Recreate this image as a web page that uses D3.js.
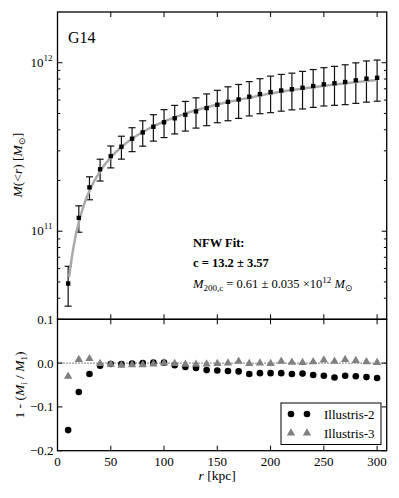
<!DOCTYPE html>
<html>
<head>
<meta charset="utf-8">
<script src="https://cdn.jsdelivr.net/npm/d3@7"></script>
<style>
body { margin: 0; background: #fff; }
svg text { font-family: "Liberation Serif", "Times New Roman", serif; fill: #000; }
</style>
</head>
<body>
<div id="chart"></div>
<script>
// radii of the mass profile [kpc]
var rVals = [10, 20, 30, 40, 50, 60, 70, 80, 90, 100, 110, 120, 130, 140, 150,
             160, 170, 180, 190, 200, 210, 220, 230, 240, 250, 260, 270, 280, 290, 300];
// enclosed mass, units of 1e10 Msun
var massVals = [4.89, 12.0, 18.2, 23.3, 27.9, 31.7, 35.4, 38.6, 41.7, 44.3, 46.8, 49.1, 51.4, 53.8, 56.3,
                58.6, 60.5, 62.8, 65.1, 66.9, 68.4, 69.6, 71.0, 72.7, 74.4, 75.5, 76.8, 78.6, 80.4, 81.4];
var massErr = [1.30, 2.14, 2.83, 3.45, 4.14, 4.92, 5.74, 6.63, 7.45, 8.35, 9.02, 9.81, 10.48, 11.49, 12.27,
               13.34, 13.77, 14.48, 15.28, 16.36, 16.82, 17.11, 17.86, 18.39, 19.03, 19.63, 20.41, 21.22, 22.05, 22.32];
// NFW fit curve (1e10 Msun)
var fitR = [11, 12, 15, 20, 25, 30, 40, 50, 60, 70, 80, 90, 100, 120, 140, 160, 180, 200, 220, 240, 260, 280, 300];
var fitM = [5.36, 6.03, 8.04, 11.32, 14.44, 17.38, 22.71, 27.42, 31.61, 35.37, 38.78, 41.90, 44.77, 49.91,
            54.40, 58.39, 61.98, 65.6, 68.8, 71.6, 74.2, 76.7, 79.0];
// residuals 1 - M_i/M_1
var ill2 = [-0.153, -0.066, -0.025, -0.006, -0.002, -0.002, -0.001, 0.000, 0.001, 0.001, -0.005, -0.009, -0.011, -0.016, -0.017,
            -0.018, -0.019, -0.025, -0.023, -0.023, -0.023, -0.025, -0.024, -0.027, -0.029, -0.033, -0.029, -0.030, -0.032, -0.034];
var ill3 = [-0.030, 0.008, 0.010, -0.001, -0.003, -0.005, -0.004, -0.004, -0.002, 0.000, -0.001, -0.003, -0.003, -0.002, -0.001,
            0.000, 0.004, -0.001, 0.000, -0.001, 0.004, 0.002, 0.001, 0.003, 0.007, 0.004, 0.008, 0.006, 0.003, 0.001];
var xTicks = [0, 50, 100, 150, 200, 250, 300];
var resTicks = [0.1, 0.0, -0.1, -0.2];

var W = 399, H = 498;
var left = 57.5, right = 386.7;
var topY = 12, midY = 319.3, botY = 450.7;
var MAJ = 5, MIN = 2.8;

var svg = d3.select("#chart").append("svg")
    .attr("width", W).attr("height", H);

var x = d3.scaleLinear().domain([0, 309]).range([left, right]);
var y = d3.scaleLog().domain([3e10, 2e12]).range([midY, topY]);
var yr = d3.scaleLinear().domain([-0.2, 0.1]).range([botY, midY]);

var E10 = 1e10;

// ---- top panel ----
var topG = svg.append("g");

// error bars
var eb = topG.selectAll(".eb").data(rVals).enter().append("g").attr("class", "eb");
eb.append("line")
    .attr("x1", d => x(d)).attr("x2", d => x(d))
    .attr("y1", (d, i) => y((massVals[i] + massErr[i]) * E10))
    .attr("y2", (d, i) => y((massVals[i] - massErr[i]) * E10))
    .attr("stroke", "#111").attr("stroke-width", 1.2);
eb.append("line")
    .attr("x1", d => x(d) - 3.5).attr("x2", d => x(d) + 3.5)
    .attr("y1", (d, i) => y((massVals[i] + massErr[i]) * E10))
    .attr("y2", (d, i) => y((massVals[i] + massErr[i]) * E10))
    .attr("stroke", "#111").attr("stroke-width", 1.2);
eb.append("line")
    .attr("x1", d => x(d) - 3.5).attr("x2", d => x(d) + 3.5)
    .attr("y1", (d, i) => y((massVals[i] - massErr[i]) * E10))
    .attr("y2", (d, i) => y((massVals[i] - massErr[i]) * E10))
    .attr("stroke", "#111").attr("stroke-width", 1.2);

// fit line
var fitLine = d3.line()
    .x((d, i) => x(fitR[i]))
    .y(d => y(d * E10))
    .curve(d3.curveMonotoneX);
topG.append("path")
    .datum(fitM)
    .attr("d", fitLine)
    .attr("fill", "none")
    .attr("stroke", "#aaaaaa")
    .attr("stroke-width", 2.5);

// square markers
topG.selectAll(".sq").data(rVals).enter().append("rect")
    .attr("x", d => x(d) - 2.2)
    .attr("y", (d, i) => y(massVals[i] * E10) - 2.2)
    .attr("width", 4.4).attr("height", 4.4)
    .attr("fill", "#000");

// ---- bottom panel ----
var botG = svg.append("g");
botG.append("line")
    .attr("x1", left).attr("x2", right)
    .attr("y1", yr(0)).attr("y2", yr(0))
    .attr("stroke", "#000").attr("stroke-width", 1)
    .attr("stroke-dasharray", "1,2");

botG.selectAll(".c2").data(rVals).enter().append("circle")
    .attr("cx", d => x(d))
    .attr("cy", (d, i) => yr(ill2[i]))
    .attr("r", 3.3)
    .attr("fill", "#000");

var tri = d3.symbol().type(d3.symbolTriangle).size(30);
botG.selectAll(".t3").data(rVals).enter().append("path")
    .attr("d", tri)
    .attr("transform", (d, i) => "translate(" + x(d) + "," + yr(ill3[i]) + ")")
    .attr("fill", "#808080");

// ---- frames and ticks ----
function frame(y0, y1) {
    svg.append("rect")
        .attr("x", left).attr("y", y0)
        .attr("width", right - left).attr("height", y1 - y0)
        .attr("fill", "none").attr("stroke", "#000").attr("stroke-width", 1.3);
}
frame(topY, midY);
frame(midY, botY);

var ticks = svg.append("g").attr("stroke", "#000").attr("stroke-width", 1);
function tick(x1, y1, x2, y2) {
    ticks.append("line").attr("x1", x1).attr("y1", y1).attr("x2", x2).attr("y2", y2);
}
// x ticks on all horizontal spines (inward)
xTicks.forEach(function (t) {
    var px = x(t);
    tick(px, topY, px, topY + MAJ);
    tick(px, midY, px, midY - MAJ);
    tick(px, midY, px, midY + MAJ);
    tick(px, botY, px, botY - MAJ);
});
// log y ticks
var majors = [1e11, 1e12];
var minors = [];
[1e10, 1e11].forEach(function (dec) {
    for (var k = 2; k <= 9; k++) {
        var v = k * dec;
        if (v > 3e10 && v < 2e12) minors.push(v);
    }
});
majors.forEach(function (v) {
    tick(left, y(v), left + MAJ, y(v));
    tick(right, y(v), right - MAJ, y(v));
});
minors.forEach(function (v) {
    tick(left, y(v), left + MIN, y(v));
    tick(right, y(v), right - MIN, y(v));
});
resTicks.forEach(function (v) {
    tick(left, yr(v), left + MAJ, yr(v));
    tick(right, yr(v), right - MAJ, yr(v));
});

// ---- tick labels ----
var lab = svg.append("g").style("font-size", "13px");
xTicks.forEach(function (t) {
    lab.append("text").attr("x", x(t)).attr("y", botY + 15)
        .attr("text-anchor", "middle").text(t);
});
majors.forEach(function (v) {
    var t = lab.append("text").attr("x", left - 5).attr("y", y(v) + 4)
        .attr("text-anchor", "end");
    t.append("tspan").text("10");
    t.append("tspan").attr("dy", -6).style("font-size", "9px").text(Math.round(Math.log10(v)));
});
resTicks.forEach(function (v) {
    lab.append("text").attr("x", left - 4).attr("y", yr(v) + 4.5)
        .attr("text-anchor", "end")
        .text(v === 0 ? "0.0" : d3.format(".1f")(v).replace("-", "\u2212"));
});

// ---- axis labels ----
var xl = svg.append("text").attr("x", (left + right) / 2 - 5).attr("y", 480)
    .attr("text-anchor", "middle").style("font-size", "13.5px");
xl.append("tspan").style("font-style", "italic").text("r");
xl.append("tspan").text(" [kpc]");

var yl = svg.append("text").attr("transform", "translate(22,165) rotate(-90)")
    .attr("text-anchor", "middle").style("font-size", "13.5px");
yl.append("tspan").style("font-style", "italic").text("M");
yl.append("tspan").text("(<");
yl.append("tspan").style("font-style", "italic").text("r");
yl.append("tspan").text(")  [");
yl.append("tspan").style("font-style", "italic").text("M");
yl.append("tspan").attr("dy", 3).style("font-size", "9px").text("\u2299");
yl.append("tspan").attr("dy", -3).text("]");

var rl = svg.append("text").attr("transform", "translate(24,385) rotate(-90)")
    .attr("text-anchor", "middle").style("font-size", "13.5px");
rl.append("tspan").text("1 - (");
rl.append("tspan").style("font-style", "italic").text("M");
rl.append("tspan").attr("dy", 3).style("font-size", "9px").text("i");
rl.append("tspan").attr("dy", -3).text(" / ");
rl.append("tspan").style("font-style", "italic").text("M");
rl.append("tspan").attr("dy", 3).style("font-size", "9px").text("1");
rl.append("tspan").attr("dy", -3).text(")");

// ---- annotations ----
svg.append("text").attr("x", 68).attr("y", 43).style("font-size", "16px").text("G14");

var ann = svg.append("g").style("font-size", "12.5px");
ann.append("text").attr("x", 193).attr("y", 247).style("font-weight", "bold").text("NFW Fit:");
ann.append("text").attr("x", 193).attr("y", 267).style("font-weight", "bold").text("c = 13.2  \u00b1 3.57");
var m2 = ann.append("text").attr("x", 193).attr("y", 288);
m2.append("tspan").style("font-style", "italic").text("M");
m2.append("tspan").attr("dy", 3).style("font-size", "9px").text("200,c");
m2.append("tspan").attr("dy", -3).text(" = 0.61  \u00b1 0.035 \u00d710");
m2.append("tspan").attr("dy", -5).style("font-size", "9px").text("12");
m2.append("tspan").attr("dy", 5).text(" ");
m2.append("tspan").style("font-style", "italic").text("M");
m2.append("tspan").attr("dy", 3).style("font-size", "9px").text("\u2299");

// ---- legend ----
var lg = svg.append("g");
lg.append("rect").attr("x", 281).attr("y", 403).attr("width", 100).attr("height", 41.5)
    .attr("fill", "#fff").attr("stroke", "#000").attr("stroke-width", 1);
[291, 307].forEach(function (px) {
    lg.append("circle").attr("cx", px).attr("cy", 414).attr("r", 3.3).attr("fill", "#000");
    lg.append("path").attr("d", tri).attr("transform", "translate(" + px + ",433)").attr("fill", "#808080");
});
lg.append("text").attr("x", 324).attr("y", 418.5).style("font-size", "13px").text("Illustris-2");
lg.append("text").attr("x", 324).attr("y", 437.5).style("font-size", "13px").text("Illustris-3");
</script>
</body>
</html>
